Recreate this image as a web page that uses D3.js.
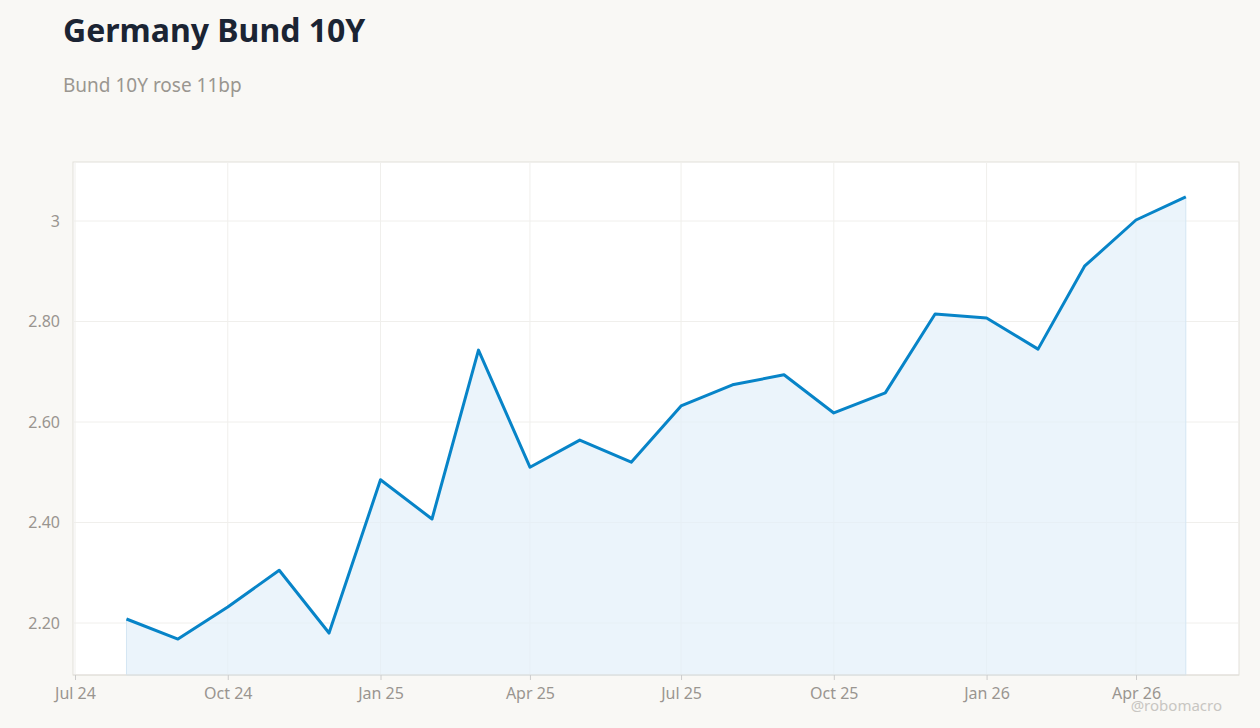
<!DOCTYPE html>
<html>
<head>
<meta charset="utf-8">
<script src="https://d3js.org/d3.v7.min.js"></script>
<style>
  body { margin: 0; background: #f9f8f5; font-family: "Noto Sans", sans-serif; }
</style>
</head>
<body>
<script>
const months = ['2024-08','2024-09','2024-10','2024-11','2024-12','2025-01','2025-02','2025-03','2025-04','2025-05','2025-06','2025-07','2025-08','2025-09','2025-10','2025-11','2025-12','2026-01','2026-02','2026-03','2026-04','2026-05'];
const yields = [2.208,2.168,2.232,2.305,2.180,2.485,2.407,2.743,2.510,2.564,2.520,2.632,2.674,2.694,2.618,2.658,2.815,2.807,2.745,2.910,3.002,3.048];
const yTicks = [2.2, 2.4, 2.6, 2.8, 3];
const xTickLabels = ['Jul 24','Oct 24','Jan 25','Apr 25','Jul 25','Oct 25','Jan 26','Apr 26'];
const xTickDates = ['2024-07','2024-10','2025-01','2025-04','2025-07','2025-10','2026-01','2026-04'];

const parse = d3.timeParse('%Y-%m');
const data = months.map((m, i) => ({date: parse(m), value: yields[i]}));

const W = 1260, H = 728;
const plot = {left: 73, right: 1239, top: 162, bottom: 675};
const font = '"Noto Sans", sans-serif';

const svg = d3.select('body').append('svg').attr('width', W).attr('height', H);

const x = d3.scaleTime().domain([parse('2024-07'), parse('2026-04')]).range([75, 1136]);
const y = d3.scaleLinear().domain([2.2, 3]).range([623, 221]);

svg.append('rect')
  .attr('x', plot.left).attr('y', plot.top)
  .attr('width', plot.right - plot.left).attr('height', plot.bottom - plot.top)
  .attr('fill', '#fff').attr('stroke', '#e2dfda');

// grid
svg.append('g').selectAll('line').data(yTicks).join('line')
  .attr('x1', plot.left).attr('x2', plot.right)
  .attr('y1', d => y(d)).attr('y2', d => y(d))
  .attr('stroke', '#f0efec');
svg.append('g').selectAll('line').data(xTickDates).join('line')
  .attr('x1', d => x(parse(d))).attr('x2', d => x(parse(d)))
  .attr('y1', plot.top).attr('y2', plot.bottom)
  .attr('stroke', '#f0efec');

// area + line
svg.append('path').datum(data)
  .attr('fill', '#e3f0fa').attr('fill-opacity', 0.7)
  .attr('stroke', '#d4e6f3')
  .attr('d', d3.area().x(d => x(d.date)).y0(plot.bottom).y1(d => y(d.value)));
svg.append('path').datum(data)
  .attr('fill', 'none').attr('stroke', '#0784c8').attr('stroke-width', 3)
  .attr('stroke-linejoin', 'round')
  .attr('d', d3.line().x(d => x(d.date)).y(d => y(d.value)));

// axes
const ya = svg.append('g').attr('transform', `translate(${plot.left},0)`)
  .call(d3.axisLeft(y).tickValues(yTicks).tickSize(0).tickPadding(13)
    .tickFormat(d => d === 3 ? '3' : d.toFixed(2)));
ya.select('.domain').remove();
ya.selectAll('text').attr('fill', '#999590').attr('font-size', 16).attr('font-family', font);

const xa = svg.append('g').attr('transform', `translate(0,${plot.bottom})`)
  .call(d3.axisBottom(x).tickValues(xTickDates.map(parse)).tickSize(5).tickPadding(8)
    .tickFormat((d, i) => xTickLabels[i]));
xa.select('.domain').attr('stroke', '#e2dfda').attr('d', `M${plot.left},0H${plot.right}`);
xa.selectAll('line').attr('stroke', '#ccc');
xa.selectAll('text').attr('fill', '#999590').attr('font-size', 16).attr('font-family', font);

// titles
svg.append('text').attr('x', 63).attr('y', 42).text('Germany Bund 10Y')
  .attr('font-family', font).attr('font-size', 32).attr('font-weight', 'bold').attr('fill', '#1b2433');
svg.append('text').attr('x', 63).attr('y', 92).text('Bund 10Y rose 11bp')
  .attr('font-family', font).attr('font-size', 19).attr('fill', '#9a9690');
svg.append('text').attr('x', 1222).attr('y', 711).attr('text-anchor', 'end').text('@robomacro')
  .attr('font-family', font).attr('font-size', 15).attr('fill', '#c8c6c2');
</script>
</body>
</html>
